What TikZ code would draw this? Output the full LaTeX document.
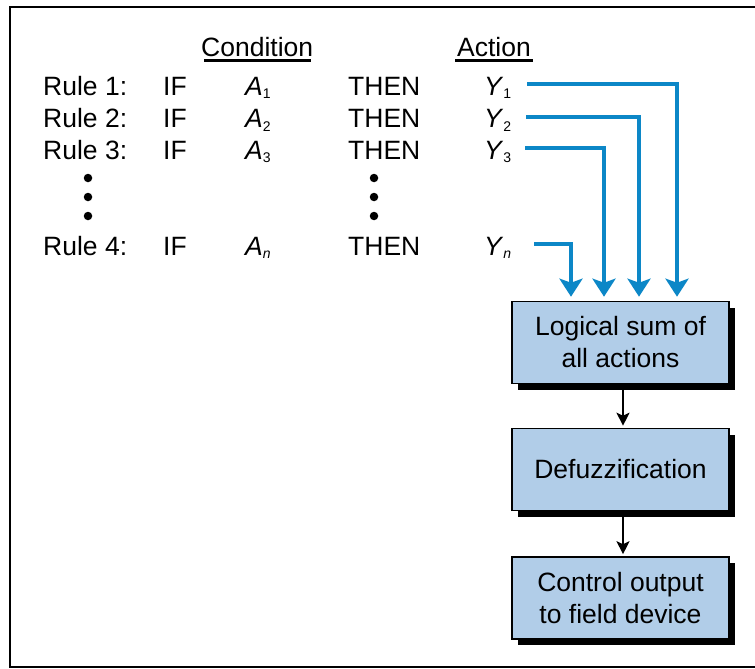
\documentclass[tikz,border=0pt]{standalone}
\usepackage{fontspec}
\setmainfont{Liberation Sans}
\usetikzlibrary{arrows.meta,shadows}
\definecolor{flowblue}{HTML}{0C87C7}
\definecolor{boxfill}{HTML}{B1CDE8}
\newcommand\subs[1]{\raisebox{-3.5pt}{\fontsize{14}{14}\selectfont #1}}
\begin{document}
\begin{tikzpicture}[x=1pt,y=-1pt,
  txt/.style={anchor=base west,inner sep=0pt,font=\fontsize{26.5}{32}\selectfont},
  procbox/.style={draw=black,line width=1.6pt,fill=boxfill,minimum width=217pt,minimum height=82pt,
    align=center,inner sep=0pt,font=\fontsize{26.5}{32}\selectfont,
    drop shadow={shadow xshift=6pt,shadow yshift=-6pt,opacity=1,fill=black}},
  bluearrow/.style={draw=flowblue,line width=4.5pt,-{Stealth[length=18pt,width=23pt,inset=4pt]}},
  blackarrow/.style={draw=black,line width=1.6pt,-{Stealth[length=13pt,width=13pt,inset=3pt]}},
  dotmark/.style={fill=black,circle,inner sep=0pt,minimum size=8.5pt}]
\useasboundingbox (0,0) rectangle (755,669);
\draw[line width=2pt] (760,7) -- (10,7) -- (10,667) -- (760,667);

% headers
\node[txt] (cond) at (201,57) {Condition};
\node[txt] (act) at (457,57) {Action};
\draw[line width=2.5pt] ([yshift=-3.5pt,xshift=3pt]cond.base west) -- ([yshift=-3.5pt,xshift=-2pt]cond.base east);
\draw[line width=2.5pt] ([yshift=-3.5pt,xshift=-2pt]act.base west) -- ([yshift=-3.5pt,xshift=2pt]act.base east);

% rows
\node[txt] (r1) at (43,95.5) {Rule 1:};
\node[txt] (if1) at (163,95.5) {IF};
\node[txt] (a1) at (245,95.5) {\textit{A}\subs{1}};
\node[txt] (t1) at (348,95.5) {THEN};
\node[txt] (y1) at (484,95.5) {\textit{Y}\subs{1}};

\node[txt] (r2) at (43,127.5) {Rule 2:};
\node[txt] (if2) at (163,127.5) {IF};
\node[txt] (a2) at (245,127.5) {\textit{A}\subs{2}};
\node[txt] (t2) at (348,127.5) {THEN};
\node[txt] (y2) at (484,127.5) {\textit{Y}\subs{2}};

\node[txt] (r3) at (43,159) {Rule 3:};
\node[txt] (if3) at (163,159) {IF};
\node[txt] (a3) at (245,159) {\textit{A}\subs{3}};
\node[txt] (t3) at (348,159) {THEN};
\node[txt] (y3) at (484,159) {\textit{Y}\subs{3}};

\node[dotmark] (d1) at (88,178) {};
\node[dotmark] (d2) at (88,197) {};
\node[dotmark] (d3) at (88,216) {};
\node[dotmark] (e1) at (374,178) {};
\node[dotmark] (e2) at (374,197) {};
\node[dotmark] (e3) at (374,216) {};

\node[txt] (r4) at (43,255) {Rule 4:};
\node[txt] (if4) at (163,255) {IF};
\node[txt] (an) at (245,255) {\textit{A}\subs{\textit{n}}};
\node[txt] (t4) at (348,255) {THEN};
\node[txt] (yn) at (484,255) {\textit{Y}\subs{\textit{n}}};

% boxes
\node[procbox] (b1) at (620.5,342.5) {Logical sum of\\all actions};
\node[procbox] (b2) at (620.5,469.5) {Defuzzification};
\node[procbox] (b3) at (620.5,598) {Control output\\to field device};

% blue connectors
\coordinate (s1) at (527,84);
\coordinate (s2) at (526,117);
\coordinate (s3) at (525,148);
\coordinate (sn) at (534,244);
\draw[bluearrow] (s1) -| ([xshift=56.5pt,yshift=4pt]b1.north);
\draw[bluearrow] (s2) -| ([xshift=18.5pt,yshift=4pt]b1.north);
\draw[bluearrow] (s3) -| ([xshift=-16.5pt,yshift=4pt]b1.north);
\draw[bluearrow] (sn) -| ([xshift=-49.5pt,yshift=4pt]b1.north);

% black connectors
\draw[blackarrow] ([xshift=2.5pt]b1.south) -- ([xshift=2.5pt,yshift=2pt]b2.north);
\draw[blackarrow] ([xshift=2.5pt]b2.south) -- ([xshift=2.5pt,yshift=2pt]b3.north);
\end{tikzpicture}
\end{document}
